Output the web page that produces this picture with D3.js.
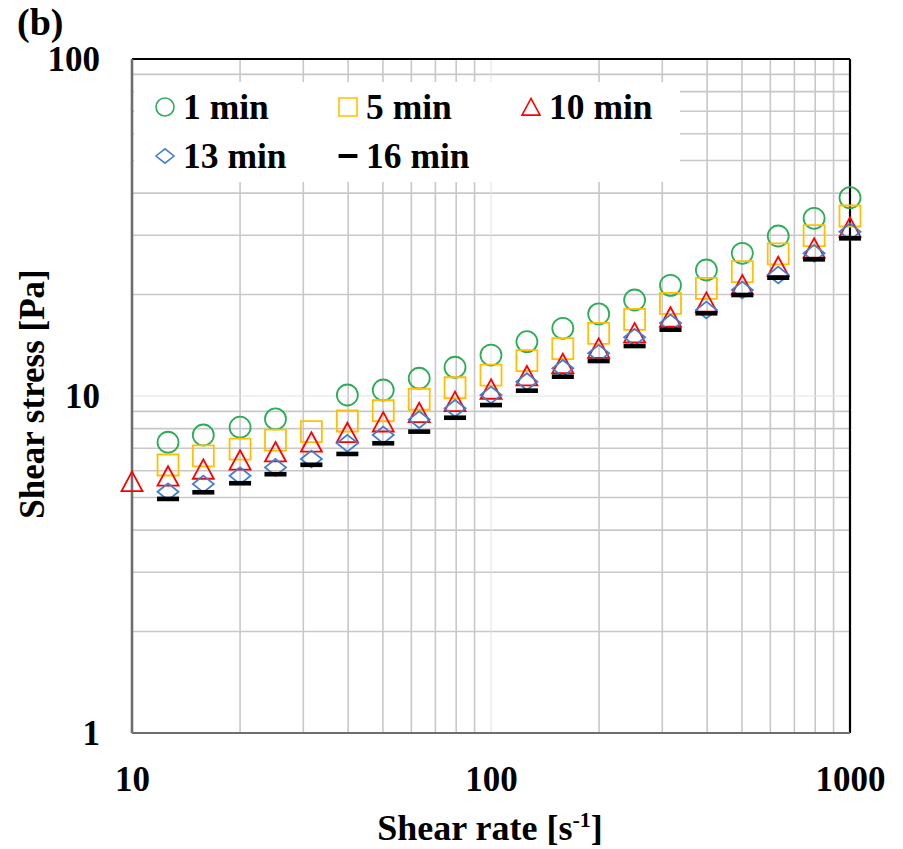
<!DOCTYPE html>
<meta charset="utf-8">
<style>
body { margin: 0; background: #fff; }
text { font-family: "Liberation Serif", "Times New Roman", serif; font-weight: bold; fill: #000; }
</style>
<body>
<script src="https://cdn.jsdelivr.net/npm/d3@7"></script>
<script>
// shear rate values (10 points per decade)
var rates = [10, 12.6, 15.8, 20, 25.1, 31.6, 39.8, 50.1, 63.1, 79.4, 100,
             125.9, 158.5, 199.5, 251.2, 316.2, 398.1, 501.2, 631, 794.3, 1000];

// shear stress per series, null = no point
var min1  = [null, 7.29, 7.66, 8.08, 8.55, null, 10.07, 10.42, 11.29, 12.17, 13.23,
             14.49, 15.88, 17.52, 19.27, 21.30, 23.65, 26.51, 29.84, 33.68, 38.77];
var min5  = [null, 6.24, 6.64, 6.96, 7.40, 7.84, 8.43, 9.04, 9.78, 10.58, 11.54,
             12.73, 13.82, 15.35, 16.89, 18.84, 20.87, 23.38, 26.39, 29.90, 34.21];
var min10 = [5.57, 5.78, 6.06, 6.45, 6.82, 7.29, 7.78, 8.37, 8.92, 9.62, 10.47,
             11.47, 12.47, 13.85, 15.38, 17.13, 18.97, 21.35, 24.19, 27.44, 31.67];
var min13 = [null, 5.20, 5.48, 5.80, 6.14, 6.50, 7.24, 7.66, 8.51, 9.19, 10.07,
             11.03, 12.08, 13.39, 14.94, 16.47, 18.00, 20.63, 22.86, 26.51, 30.73];
var min16 = [null, 4.95, 5.18, 5.51, 5.86, 6.25, 6.73, 7.24, 7.84, 8.62, 9.40,
             10.37, 11.41, 12.70, 14.07, 15.73, 17.60, 19.94, 22.44, 25.44, 29.37];

var seriesNames = ["1 min", "5 min", "10 min", "13 min", "16 min"];
var xTicks = [10, 100, 1000];
var yTicks = [1, 10, 100];

var width = 903, height = 849;
var margin = {top: 59, right: 53, bottom: 116, left: 132};

var x = d3.scaleLog().domain([10, 1000]).range([margin.left, width - margin.right]);
var y = d3.scaleLog().domain([1, 100]).range([height - margin.bottom, margin.top]);

var svg = d3.select("body").append("svg")
    .attr("width", width)
    .attr("height", height);

// marker shapes
function shape(name, s) {
  if (name == "circle") return "M" + s + ",0A" + s + "," + s + " 0 1,1 " + (-s) + ",0A" + s + "," + s + " 0 1,1 " + s + ",0Z";
  if (name == "square") return "M" + (-s) + "," + (-s) + "H" + s + "V" + s + "H" + (-s) + "Z";
  if (name == "triangle") return "M0," + (-s * 0.95) + "L" + s + "," + (s * 0.9) + "H" + (-s) + "Z";
  if (name == "diamond") return "M" + (-s) + ",0L0," + (-s * 0.8) + "L" + s + ",0L0," + (s * 0.8) + "Z";
  if (name == "dash") return "M" + (-s * 1.05) + "," + (-s * 0.22) + "H" + (s * 1.05) + "V" + (s * 0.22) + "H" + (-s * 1.05) + "Z";
}

var series = [
  {name: seriesNames[0], values: min1,  shape: "circle",   color: "#2fac58", fill: "none"},
  {name: seriesNames[1], values: min5,  shape: "square",   color: "#ffc000", fill: "none"},
  {name: seriesNames[2], values: min10, shape: "triangle", color: "#ff0000", fill: "none"},
  {name: seriesNames[3], values: min13, shape: "diamond",  color: "#3f7fce", fill: "none"},
  {name: seriesNames[4], values: min16, shape: "dash",     color: "#000000", fill: "#000000"}
];

// grid lines
var xMinor = [], yMinor = [];
[10, 100].forEach(function(d) { for (var i = 2; i <= 9; i++) xMinor.push(d * i); });
[1, 10].forEach(function(d) { for (var i = 2; i <= 9; i++) yMinor.push(d * i); });

var grid = svg.append("g");
grid.selectAll(".gx").data(xMinor).enter().append("line")
    .attr("x1", function(d) { return x(d); }).attr("x2", function(d) { return x(d); })
    .attr("y1", y(100)).attr("y2", y(1))
    .attr("stroke", "#c8c8c8").attr("stroke-width", 1.6);
grid.selectAll(".gy").data(yMinor).enter().append("line")
    .attr("y1", function(d) { return y(d); }).attr("y2", function(d) { return y(d); })
    .attr("x1", x(10)).attr("x2", x(1000))
    .attr("stroke", "#c8c8c8").attr("stroke-width", 1.6);
// major lines are lighter
grid.append("line")
    .attr("x1", x(100)).attr("x2", x(100)).attr("y1", y(100)).attr("y2", y(1))
    .attr("stroke", "#e2e2e2").attr("stroke-width", 1);
grid.append("line")
    .attr("y1", y(10)).attr("y2", y(10)).attr("x1", x(10)).attr("x2", x(1000))
    .attr("stroke", "#e2e2e2").attr("stroke-width", 1);

// legend background hides the grid
svg.append("rect")
    .attr("x", x(10) + 2).attr("y", 82)
    .attr("width", 680 - x(10) - 2).attr("height", 100)
    .attr("fill", "#fff");

// frame
svg.append("line").attr("x1", x(10)).attr("x2", x(1000)).attr("y1", y(100)).attr("y2", y(100))
    .attr("stroke", "#000").attr("stroke-width", 2.2);
svg.append("line").attr("x1", x(1000)).attr("x2", x(1000)).attr("y1", y(100)).attr("y2", y(1))
    .attr("stroke", "#000").attr("stroke-width", 2.2);
svg.append("line").attr("x1", x(10)).attr("x2", x(1000)).attr("y1", y(1)).attr("y2", y(1))
    .attr("stroke", "#6e6e6e").attr("stroke-width", 2.2);
svg.append("line").attr("x1", x(10)).attr("x2", x(10)).attr("y1", y(100)).attr("y2", y(1))
    .attr("stroke", "#6e6e6e").attr("stroke-width", 2.6);

// axes (labels only)
var xAxis = svg.append("g")
    .attr("transform", "translate(0," + y(1) + ")")
    .call(d3.axisBottom(x).tickValues(xTicks).tickFormat(d3.format("d")).tickSize(0).tickPadding(33));
var yAxis = svg.append("g")
    .attr("transform", "translate(" + x(10) + ",0)")
    .call(d3.axisLeft(y).tickValues(yTicks).tickFormat(d3.format("d")).tickSize(0).tickPadding(32));
[xAxis, yAxis].forEach(function(a) {
  a.select(".domain").remove();
  a.selectAll("text").attr("font-family", "Liberation Serif").attr("font-weight", "bold")
    .attr("font-size", 35).attr("fill", "#000");
});

// points
series.forEach(function(s) {
  var pts = rates.map(function(r, i) { return {x: r, y: s.values[i]}; })
                 .filter(function(d) { return d.y != null; });
  svg.append("g").selectAll("path").data(pts).enter().append("path")
      .attr("transform", function(d) { return "translate(" + x(d.x) + "," + y(d.y) + ")"; })
      .attr("d", shape(s.shape, 10.5))
      .attr("fill", s.fill)
      .attr("stroke", s.shape == "dash" ? "none" : s.color)
      .attr("stroke-width", 1.8);
});

// legend
var legPos = [[165, 107], [348, 107], [531, 107], [165, 156], [348, 156]];
var leg = svg.append("g").selectAll("g").data(series).enter().append("g")
    .attr("transform", function(d, i) { return "translate(" + legPos[i][0] + "," + legPos[i][1] + ")"; });
leg.append("path")
    .attr("d", function(d) { return shape(d.shape, 9); })
    .attr("fill", function(d) { return d.fill; })
    .attr("stroke", function(d) { return d.shape == "dash" ? "none" : d.color; })
    .attr("stroke-width", 1.6);
leg.append("text")
    .attr("x", 18).attr("y", 12)
    .attr("font-size", 35.5)
    .text(function(d) { return d.name; });

// titles
svg.append("text").attr("x", 17).attr("y", 35).attr("font-size", 38).text("(b)");

var xt = svg.append("text")
    .attr("x", (x(10) + x(1000)) / 2 - 1).attr("y", 840)
    .attr("text-anchor", "middle").attr("font-size", 36);
xt.append("tspan").text("Shear rate [s");
xt.append("tspan").attr("font-size", 22).attr("dy", -13).text("-1");
xt.append("tspan").attr("dy", 13).text("]");

svg.append("text")
    .attr("transform", "translate(44," + 394 + ") rotate(-90)")
    .attr("text-anchor", "middle").attr("font-size", 35)
    .text("Shear stress [Pa]");
</script>
</body>
